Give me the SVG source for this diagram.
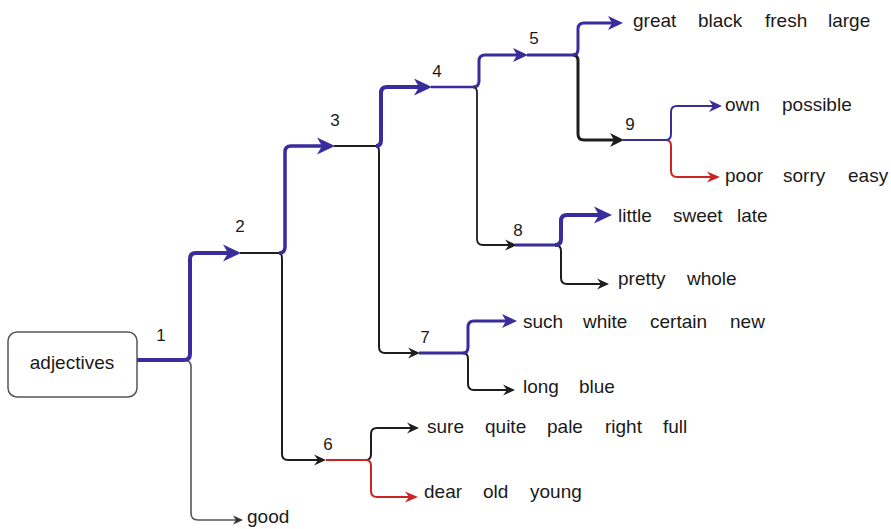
<svg xmlns="http://www.w3.org/2000/svg" width="891" height="529" viewBox="0 0 891 529">
  <style>
    .word { font-family: "Liberation Sans", Arial, sans-serif; font-size: 19px; fill: #1a1a1a; }
    .num { font-family: "Liberation Sans", Arial, sans-serif; font-size: 17px; fill: #1a1a1a; text-anchor: middle; }
    .ln { fill: none; stroke-linecap: butt; stroke-linejoin: round; }
    .blue { stroke: #392c9c; }
    .black { stroke: #1e1e1e; }
    .red { stroke: #cc2424; }
    .gray { stroke: #555; }
  </style>
  <defs>
    <!-- notched "classic" arrowheads; origin = notch, so strokes stop under the head -->
    <marker id="aBlueXL" markerUnits="userSpaceOnUse" markerWidth="1" markerHeight="1" refX="0" refY="0" orient="auto" overflow="visible">
      <path d="M13,0 L-5,-8.5 L0,0 L-5,8.5 Z" fill="#392c9c"/>
    </marker>
    <marker id="aBlueL" markerUnits="userSpaceOnUse" markerWidth="1" markerHeight="1" refX="0" refY="0" orient="auto" overflow="visible">
      <path d="M11,0 L-4,-7 L0,0 L-4,7 Z" fill="#392c9c"/>
    </marker>
    <marker id="aBlueS" markerUnits="userSpaceOnUse" markerWidth="1" markerHeight="1" refX="0" refY="0" orient="auto" overflow="visible">
      <path d="M9,0 L-4,-6 L0,0 L-4,6 Z" fill="#392c9c"/>
    </marker>
    <marker id="aBlackL" markerUnits="userSpaceOnUse" markerWidth="1" markerHeight="1" refX="0" refY="0" orient="auto" overflow="visible">
      <path d="M10,0 L-4,-7 L0,0 L-4,7 Z" fill="#1e1e1e"/>
    </marker>
    <marker id="aBlack" markerUnits="userSpaceOnUse" markerWidth="1" markerHeight="1" refX="0" refY="0" orient="auto" overflow="visible">
      <path d="M8,0 L-4,-5.5 L0,0 L-4,5.5 Z" fill="#1e1e1e"/>
    </marker>
    <marker id="aGray" markerUnits="userSpaceOnUse" markerWidth="1" markerHeight="1" refX="0" refY="0" orient="auto" overflow="visible">
      <path d="M7,0 L-3,-4.5 L0,0 L-3,4.5 Z" fill="#333"/>
    </marker>
    <marker id="aRed" markerUnits="userSpaceOnUse" markerWidth="1" markerHeight="1" refX="0" refY="0" orient="auto" overflow="visible">
      <path d="M9,0 L-4,-5.5 L0,0 L-4,5.5 Z" fill="#cc2424"/>
    </marker>
  </defs>

  <g id="connectors">
    <!-- lower (black / gray / red) branches -->
    <path class="ln gray" stroke-width="1.6" d="M184,360 Q191,360 191,367 V513 Q191,520 198,520 H236" marker-end="url(#aGray)"/>
    <path class="ln black" stroke-width="2" d="M279,253 Q282,253 282,259 V454 Q282,460 288,460 H318" marker-end="url(#aBlack)"/>
    <path class="ln black" stroke-width="2" d="M376,146 Q379,146 379,152 V347 Q379,353 385,353 H412" marker-end="url(#aBlack)"/>
    <path class="ln black" stroke-width="1.8" d="M473,87 Q477,87 477,93 V239 Q477,245 483,245 H509" marker-end="url(#aBlack)"/>
    <path class="ln black" stroke-width="3" d="M573,55 Q578,55 578,61 V134 Q578,140 584,140 H614" marker-end="url(#aBlackL)"/>
    <path class="ln black" stroke-width="2" d="M555,245 Q561,245 561,251 V278 Q561,284 567,284 H601" marker-end="url(#aBlack)"/>
    <path class="ln black" stroke-width="2" d="M463,353 Q468,353 468,359 V384 Q468,390 474,390 H507" marker-end="url(#aBlack)"/>
    <path class="ln black" stroke-width="2" d="M366,460 Q371,460 371,454 V434 Q371,428 377,428 H411" marker-end="url(#aBlack)"/>
    <path class="ln red" stroke-width="2" d="M366,460 Q371,460 371,466 V491 Q371,497 377,497 H409" marker-end="url(#aRed)"/>
    <path class="ln red" stroke-width="2" d="M666,140 Q671,140 671,146 V171 Q671,177 677,177 H711" marker-end="url(#aRed)"/>

    <!-- junction stubs after each numbered arrow -->
    <path class="ln black" stroke-width="2" d="M240,253 H281"/>
    <path class="ln black" stroke-width="2" d="M334,146 H378"/>
    <path class="ln blue" stroke-width="2.5" d="M431,87 H475"/>
    <path class="ln blue" stroke-width="3" d="M527,55 H575"/>
    <path class="ln blue" stroke-width="2" d="M623,140 H668"/>
    <path class="ln blue" stroke-width="3" d="M515,245 H557"/>
    <path class="ln blue" stroke-width="3" d="M419,353 H465"/>
    <path class="ln red" stroke-width="2" d="M326,460 H368"/>

    <!-- upper (blue) branches -->
    <path class="ln blue" stroke-width="4" d="M137,360 H184 Q190,360 190,354 V259 Q190,253 196,253 H228" marker-end="url(#aBlueXL)"/>
    <path class="ln blue" stroke-width="3.5" d="M279,253 Q285,253 285,247 V152 Q285,146 291,146 H322" marker-end="url(#aBlueXL)"/>
    <path class="ln blue" stroke-width="4" d="M376,146 Q381,146 381,140 V93 Q381,87 387,87 H419" marker-end="url(#aBlueXL)"/>
    <path class="ln blue" stroke-width="3" d="M473,87 Q479,87 479,81 V61 Q479,55 485,55 H517" marker-end="url(#aBlueL)"/>
    <path class="ln blue" stroke-width="3" d="M573,55 Q578,55 578,49 V29 Q578,23 584,23 H612" marker-end="url(#aBlueL)"/>
    <path class="ln blue" stroke-width="2" d="M666,140 Q671,140 671,134 V112 Q671,106 677,106 H713" marker-end="url(#aBlueS)"/>
    <path class="ln blue" stroke-width="4" d="M555,245 Q561,245 561,239 V221 Q561,215 567,215 H599" marker-end="url(#aBlueXL)"/>
    <path class="ln blue" stroke-width="3" d="M463,353 Q468,353 468,347 V327 Q468,321 474,321 H506" marker-end="url(#aBlueL)"/>
  </g>

  <g id="root">
    <rect x="8" y="332" width="129" height="65" rx="9" fill="#fff" stroke="#555" stroke-width="1.5"/>
    <text class="word" x="72" y="369" text-anchor="middle">adjectives</text>
  </g>

  <g id="n1"><text class="num" x="161" y="341">1</text></g>
  <g id="n2"><text class="num" x="240" y="232">2</text></g>
  <g id="n3"><text class="num" x="335" y="126">3</text></g>
  <g id="n4"><text class="num" x="437" y="77">4</text></g>
  <g id="n5"><text class="num" x="534" y="44">5</text></g>
  <g id="n6"><text class="num" x="328" y="450">6</text></g>
  <g id="n7"><text class="num" x="425" y="343">7</text></g>
  <g id="n8"><text class="num" x="518" y="236">8</text></g>
  <g id="n9"><text class="num" x="630" y="130">9</text></g>

  <g id="leaf-great">
    <text class="word" y="27"><tspan x="633">great</tspan><tspan x="698">black</tspan><tspan x="765">fresh</tspan><tspan x="828">large</tspan></text>
  </g>
  <g id="leaf-own">
    <text class="word" y="111"><tspan x="725">own</tspan><tspan x="782">possible</tspan></text>
  </g>
  <g id="leaf-poor">
    <text class="word" y="182"><tspan x="725">poor</tspan><tspan x="783">sorry</tspan><tspan x="848">easy</tspan></text>
  </g>
  <g id="leaf-little">
    <text class="word" y="222"><tspan x="618">little</tspan><tspan x="673">sweet</tspan><tspan x="737">late</tspan></text>
  </g>
  <g id="leaf-pretty">
    <text class="word" y="285"><tspan x="618">pretty</tspan><tspan x="687">whole</tspan></text>
  </g>
  <g id="leaf-such">
    <text class="word" y="328"><tspan x="523">such</tspan><tspan x="583">white</tspan><tspan x="650">certain</tspan><tspan x="730">new</tspan></text>
  </g>
  <g id="leaf-long">
    <text class="word" y="393"><tspan x="523">long</tspan><tspan x="579">blue</tspan></text>
  </g>
  <g id="leaf-sure">
    <text class="word" y="433"><tspan x="427">sure</tspan><tspan x="485">quite</tspan><tspan x="547">pale</tspan><tspan x="605">right</tspan><tspan x="663">full</tspan></text>
  </g>
  <g id="leaf-dear">
    <text class="word" y="498"><tspan x="424">dear</tspan><tspan x="483">old</tspan><tspan x="530">young</tspan></text>
  </g>
  <g id="leaf-good">
    <text class="word" x="247" y="523">good</text>
  </g>
</svg>
